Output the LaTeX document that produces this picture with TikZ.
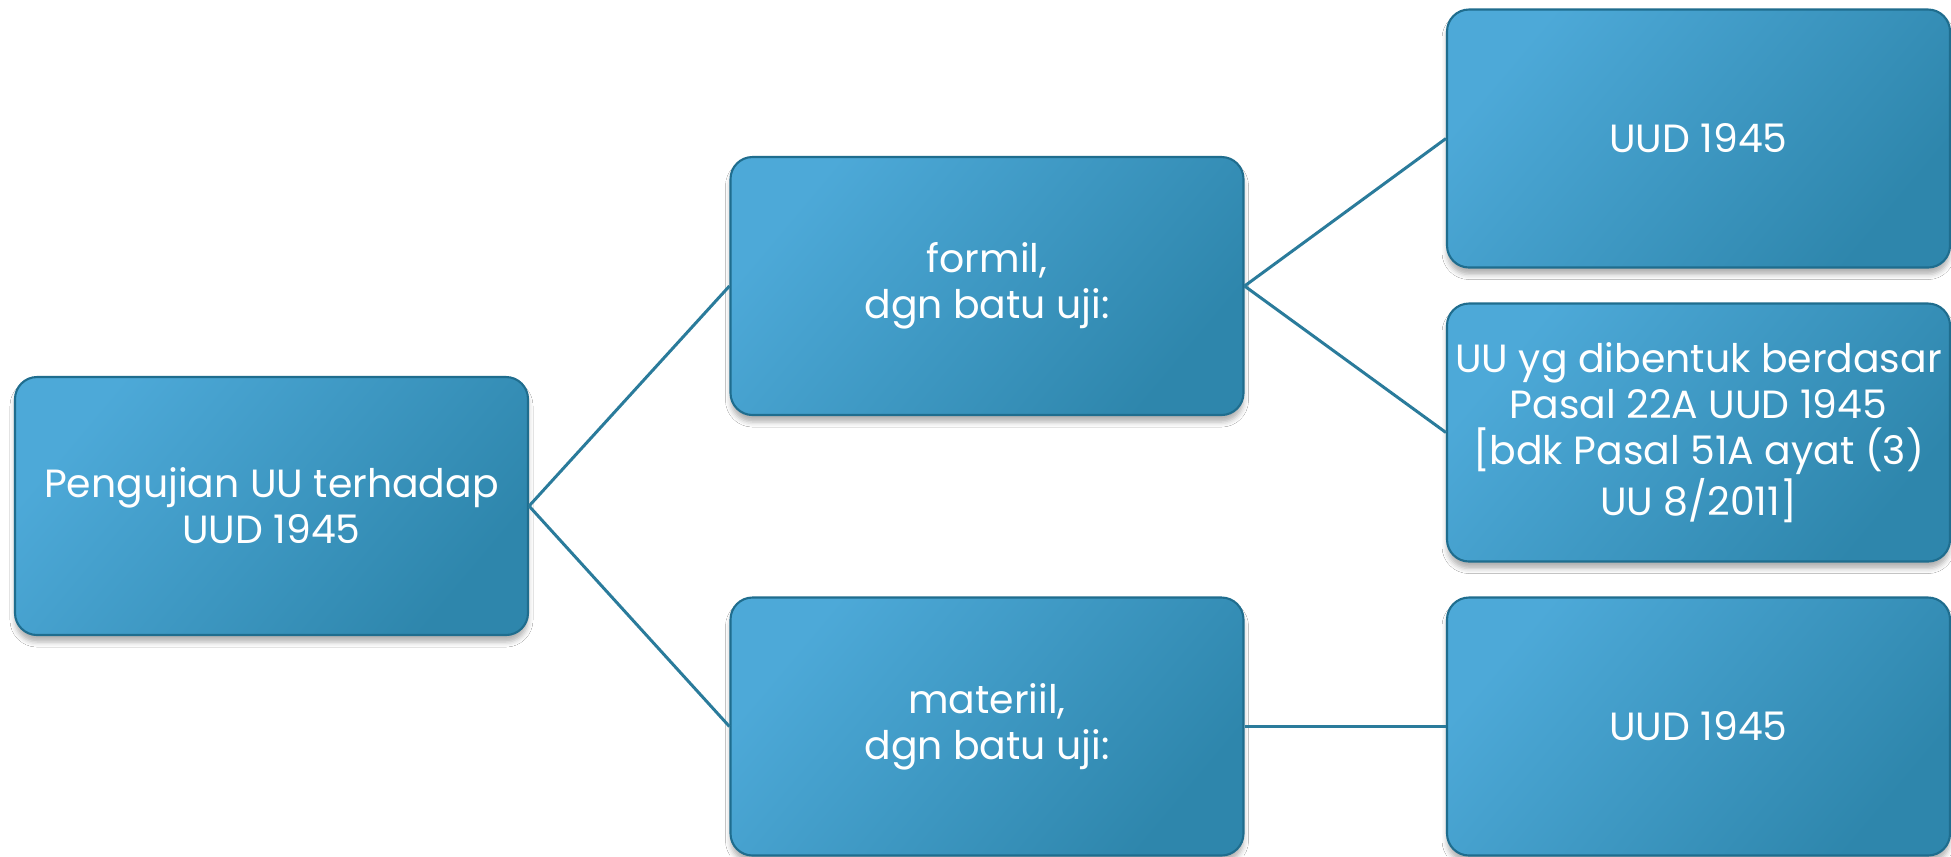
\documentclass[tikz,border=0pt]{standalone}
\usepackage{fontspec}
\setmainfont{Poppins}
\usetikzlibrary{shadows.blur}
\definecolor{boxlight}{HTML}{4DA9D8}
\definecolor{boxmid}{HTML}{449DCB}
\definecolor{boxdark}{HTML}{2E86AC}
\definecolor{boxedge}{HTML}{1F6D8E}
\definecolor{linkcol}{HTML}{2A7B9B}
\tikzset{
  card/.style={rectangle, rounded corners=0.22cm, draw=boxedge, line width=0.6pt,
    top color=boxlight, middle color=boxmid, bottom color=boxdark, shading angle=50,
    minimum width=5.13cm, minimum height=2.58cm, inner sep=0pt,
    text=white, align=center, font=\fontsize{11.2}{13.1}\selectfont,
    blur shadow={shadow xshift=0pt, shadow yshift=-0.07cm,
      shadow blur radius=0.05cm, shadow opacity=30}},
  narrowcard/.style={card, minimum width=5.03cm},
  link/.style={draw=linkcol, line width=0.85pt}
}
\begin{document}
\begin{tikzpicture}
\useasboundingbox[fill=white] (0,0) rectangle (19.51,-8.56);

% level 0
\node[card] (root) at (2.715,-5.06) {Pengujian UU terhadap\\UUD 1945};
% level 1
\node[card] (formil) at (9.87,-2.86) {formil,\\dgn batu uji:};
\node[card] (materiil) at (9.87,-7.265) {materiil,\\dgn batu uji:};
% level 2
\node[narrowcard] (uudA) at (16.985,-1.385) {UUD 1945};
\node[narrowcard] (uuyg) at (16.985,-4.325)
  {UU yg dibentuk berdasar\\Pasal 22A UUD 1945\\{[}bdk Pasal 51A ayat (3)\\UU 8/2011{]}};
\node[narrowcard] (uudB) at (16.985,-7.265) {UUD 1945};

% connectors
\draw[link] (root.east) -- (formil.west);
\draw[link] (root.east) -- (materiil.west);
\draw[link] (formil.east) -- (uudA.west);
\draw[link] (formil.east) -- (uuyg.west);
\draw[link] (materiil.east) -- (uudB.west);
\end{tikzpicture}
\end{document}
